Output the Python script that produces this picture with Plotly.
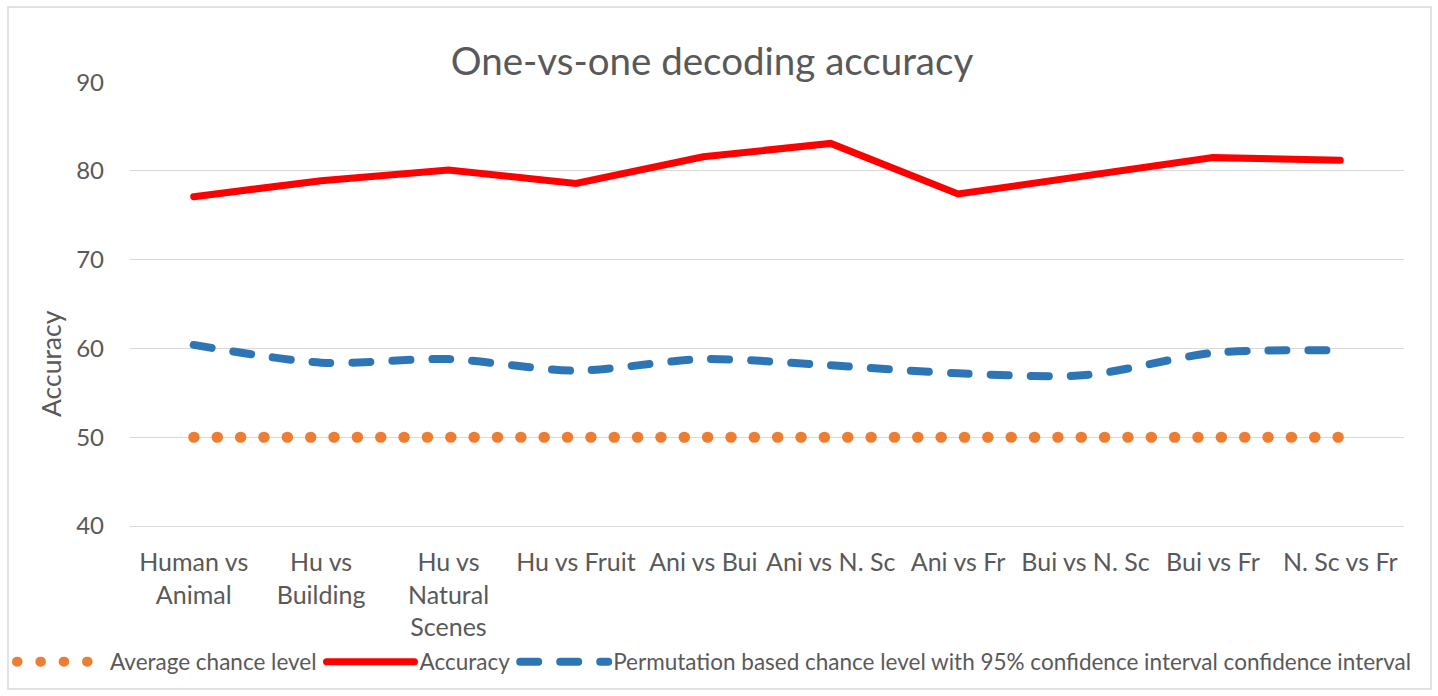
import plotly.graph_objects as go

categories = ["Human vs<br>Animal", "Hu vs<br>Building", "Hu vs<br>Natural<br>Scenes", "Hu vs Fruit",
              "Ani vs Bui", "Ani vs N. Sc", "Ani vs Fr", "Bui vs N. Sc", "Bui vs Fr", "N. Sc vs Fr"]
chance_level = [50, 50, 50, 50, 50, 50, 50, 50, 50, 50]
accuracy = [77.1, 78.9, 80.1, 78.6, 81.6, 83.1, 77.4, 79.5, 81.5, 81.2]
permutation = [60.4, 58.4, 58.8, 57.5, 58.8, 58.1, 57.2, 57.0, 59.5, 59.8]
y_ticks = [40, 50, 60, 70, 80, 90]

FONT = "Lato, 'Open Sans', sans-serif"
GRAY = "#595959"

fig = go.Figure()
fig.add_trace(go.Scatter(x=categories, y=chance_level, mode="lines", name="Average chance level",
                         line=dict(color="#ED7D31", width=11, dash="0.5px,22.85px")))
fig.add_trace(go.Scatter(x=categories, y=accuracy, mode="lines", name="Accuracy",
                         line=dict(color="#FF0000", width=7)))
fig.add_trace(go.Scatter(x=categories, y=permutation, mode="lines",
                         name="Permutation based chance level with 95% confidence interval confidence interval",
                         line=dict(color="#2E75B6", width=8, dash="18px,22px", shape="spline", smoothing=0.8)))

# outer chart border
fig.add_shape(type="rect", xref="paper", yref="paper",
              x0=(8 - 130) / 1274, x1=(1431 - 130) / 1274,
              y0=(526 - 689) / 444, y1=(526 - 7) / 444,
              line=dict(color="#d9d9d9", width=1.5), fillcolor="rgba(0,0,0,0)", layer="below")

# y-axis title (placed like the original, slightly below the plot centre)
fig.add_annotation(text="Accuracy", textangle=-90, xref="paper", yref="paper",
                   x=(51 - 130) / 1274, y=(526 - 364) / 444, xanchor="center", yanchor="middle",
                   showarrow=False, font=dict(size=26.5, color=GRAY, family=FONT))

fig.update_layout(
    width=1438, height=696,
    margin=dict(l=130, r=34, t=82, b=170),
    paper_bgcolor="white", plot_bgcolor="white",
    font=dict(family=FONT, color=GRAY),
    title=dict(text="One-vs-one decoding accuracy", x=712 / 1438, xref="container", xanchor="center",
               y=1 - 62 / 696, yanchor="middle", font=dict(size=38.5, color=GRAY, family=FONT)),
    showlegend=True,
    legend=dict(orientation="h", x=(12 - 130) / 1274, xanchor="left", y=(526 - 662) / 444, yanchor="middle",
                font=dict(size=22.5, color=GRAY, family=FONT), bgcolor="rgba(0,0,0,0)",
                itemwidth=88, tracegroupgap=0),
)
fig.update_xaxes(range=[-0.5, 9.5], showgrid=False, showline=True, linecolor="#d9d9d9", linewidth=1.2,
                 tickfont=dict(size=25, color=GRAY), ticks="", ticklabelstandoff=14,
                 tickangle=0, fixedrange=True, automargin=False)
fig.update_yaxes(range=[40, 90.02], tickvals=y_ticks, showgrid=True, gridcolor="#d9d9d9", gridwidth=1.2,
                 zeroline=False, showline=False, tickfont=dict(size=24, color=GRAY), ticks="",
                 ticklabelstandoff=25, automargin=False, fixedrange=True)

post = """
document.body.style.margin = '0';
var gd = document.getElementById('{plot_id}');
gd.querySelectorAll('.scatterlayer .trace').forEach(function(t){
  t.querySelectorAll('path.js-line').forEach(function(p){ p.style.strokeLinecap = 'round'; });
});
gd.querySelectorAll('.legend .traces').forEach(function(t){
  t.querySelectorAll('path.js-line').forEach(function(p){ p.style.strokeLinecap = 'round'; });
});
"""

fig.write_html("out.html", post_script=post, config={"displayModeBar": False})
